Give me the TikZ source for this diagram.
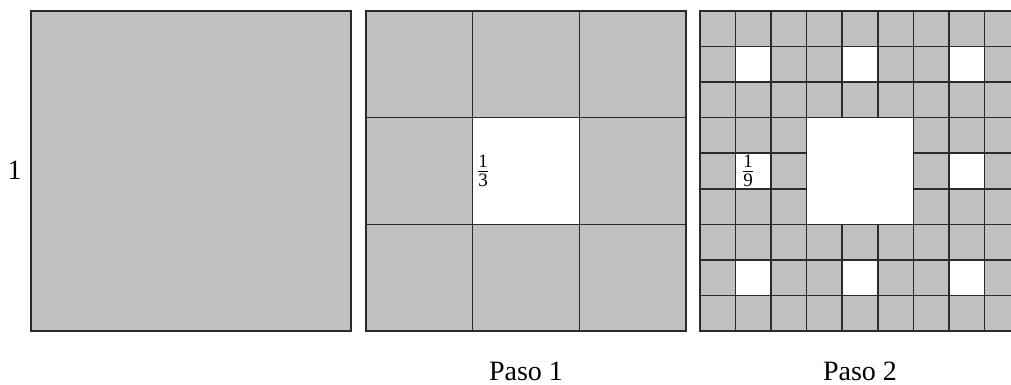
\documentclass[tikz,border=0pt]{standalone}
\usepackage{fontspec}
\setmainfont{Liberation Serif}
\definecolor{cellgray}{HTML}{C0C0C0}
\definecolor{edge}{HTML}{2B2B2B}
% a small stacked fraction set in the text font
\newcommand{\txtfrac}[2]{$\frac{\hbox{\fontsize{19}{19}\selectfont #1}}{\hbox{\fontsize{19}{19}\selectfont #2}}$}
\begin{document}
\begin{tikzpicture}[x=1pt,y=-1pt,
  cell/.style={fill=cellgray,draw=edge,line width=1.5pt},
  hole/.style={fill=white,draw=edge,line width=1.5pt},
  gridline/.style={draw=edge,line width=1.5pt},
  lab/.style={font=\fontsize{28}{32}\selectfont,inner sep=0pt}]
\useasboundingbox (0,0) rectangle (1011,385);
\clip (0,0) rectangle (1011,385);

% Step 0: the whole square
\draw[cell] (31,11) rectangle (351,331);

% Step 1: 3x3 grid with the middle square removed
\def\sa{106.667}
\draw[cell] (366,11) rectangle (686,331);
\foreach \k in {1,2} {
  \draw[gridline] (366+\k*\sa,11) -- (366+\k*\sa,331);
  \draw[gridline] (366,11+\k*\sa) -- (686,11+\k*\sa);
}
\draw[hole] (366+\sa,11+\sa) rectangle (366+2*\sa,11+2*\sa);

% Step 2: 9x9 grid with holes at both scales
\def\sb{35.556}
\foreach \i in {0,...,8} {
  \foreach \j in {0,...,8} {
    \pgfmathtruncatemacro{\mi}{mod(\i,3)}
    \pgfmathtruncatemacro{\mj}{mod(\j,3)}
    \ifnum\mi=1 \ifnum\mj=1
      \draw[hole] (700+\i*\sb,11+\j*\sb) rectangle +(\sb,\sb);
    \else
      \draw[cell] (700+\i*\sb,11+\j*\sb) rectangle +(\sb,\sb);
    \fi\else
      \draw[cell] (700+\i*\sb,11+\j*\sb) rectangle +(\sb,\sb);
    \fi
  }
}
\draw[hole] (700+3*\sb,11+3*\sb) rectangle (700+6*\sb,11+6*\sb);

% Labels
\node[lab] (one) at (14.5,170) {1};
\node[lab] (third) at (483,171) {\txtfrac{1}{3}};
\node[lab] (ninth) at (748,171) {\txtfrac{1}{9}};
\node[lab,anchor=base] (paso1) at (526,380) {Paso 1};
\node[lab,anchor=base] (paso2) at (860,380) {Paso 2};
\end{tikzpicture}
\end{document}
